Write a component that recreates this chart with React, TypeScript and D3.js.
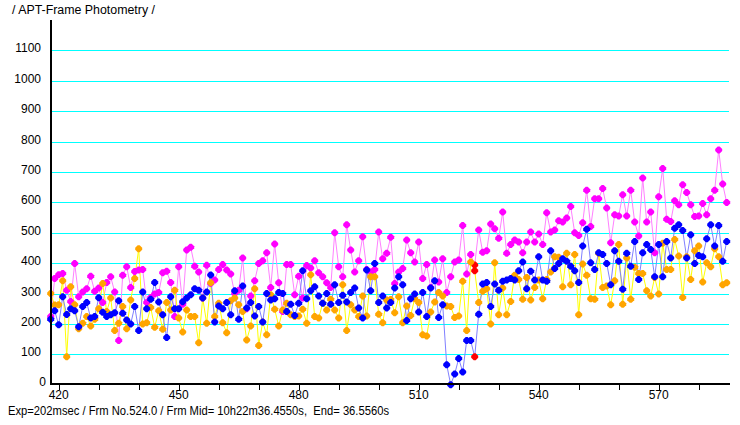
import * as d3 from "d3";
import { useEffect, useRef } from "react";

const firstFrame = 418;
const currentFrame = 524;

const magenta = [
  224, 349, 362, 366, 311, 274, 399, 289, 305, 316, 357, 307, 318, 270, 336, 355, 305, 145, 360, 388,
  320, 372, 377, 379, 270, 287, 298, 303, 368, 373, 336, 224, 388, 265, 443, 452, 390, 371, 285, 393,
  333, 344, 379,
  395, 377, 364, 300, 311, 417, 250, 292, 342, 399, 408, 434, 320, 463, 335, 241, 395, 395, 296, 357,
  285, 392, 384, 408, 368, 355, 335, 320, 500, 388, 355, 526, 443, 371, 408, 487, 379, 371, 379, 502,
  414, 432,
  485, 333, 371, 382, 476, 434, 404, 469, 349, 395, 320, 410, 338, 414, 303, 355, 404, 410, 524, 364,
  428, 394, 509, 436, 441, 529, 513, 482, 568, 432, 461, 476, 469, 434, 469, 502, 469, 496, 461, 566,
  502, 509, 539,
  535, 548, 586, 500, 491, 533, 640, 520, 612, 612, 645, 581, 467, 559, 555, 625, 555, 640, 535, 489,
  680, 535, 568, 434, 618, 711, 544, 537, 605, 592, 658, 632, 592, 553, 555, 596, 559, 612, 640, 772,
  660, 599,
];

const orange = [
  300, 262, 263, 342, 92, 322, 263, 184, 202, 224, 193, 215, 250, 333, 241, 285, 178, 202, 257, 184,
  279, 349, 447, 200, 204, 254, 189, 243, 182, 270, 246, 311, 219, 173, 246, 224, 224, 138, 285, 202,
  335, 224, 268,
  204, 171, 276, 285, 263, 241, 147, 193, 316, 129, 206, 164, 296, 248, 193, 246, 268, 230, 224, 226,
  248, 202, 362, 224, 219, 268, 246, 281, 246, 219, 329, 178, 263, 246, 224, 292, 226, 355, 355, 232,
  204, 279,
  280, 237, 289, 204, 259, 228, 283, 270, 164, 160, 239, 272, 303, 292, 259, 257, 221, 226, 340, 178,
  404, 375, 270, 307, 316, 200, 401, 230, 318, 230, 274, 360, 346, 281, 353, 279, 320, 344, 283, 346,
  371, 421, 419,
  322, 432, 329, 428, 230, 397, 360, 283, 281, 432, 320, 325, 263, 342, 461, 265, 417, 281, 386, 366,
  366, 309, 292, 353, 298, 465, 379, 379, 478, 423, 287, 421, 346, 441, 456, 338, 401, 388, 447, 421,
  329, 335,
];

const blue = [
  215, 243, 197, 289, 231, 250, 243, 191, 257, 270, 219, 224, 286, 238, 224, 230, 237, 276, 235, 213,
  200, 257, 178, 305, 250, 281, 336, 272, 230, 155, 289, 250, 250, 273, 285, 296, 316, 311, 285, 305,
  361, 206, 259,
  250, 270, 230, 309, 215, 325, 252, 270, 226, 257, 206, 300, 279, 283, 303, 300, 241, 265, 228, 268,
  375, 283, 309, 322, 292, 268, 300, 265, 329, 270, 294, 272, 303, 318, 252, 219, 377, 309, 399, 270,
  292, 252,
  270, 318, 355, 329, 211, 283, 298, 239, 303, 224, 318, 342, 221, 263, 66, 0, 35, 86, 42, 145,
  145, 92, 232, 331, 336, 257, 331, 311, 340, 344, 349, 344, 375, 404, 316, 373, 344, 421, 344, 340,
  441, 382, 399,
  414, 406, 390, 375, 336, 456, 511, 401, 379, 434, 428, 399, 329, 441, 406, 314, 432, 390, 471, 346,
  434, 461, 445, 355, 461, 355, 471, 417, 515, 526, 507, 417, 493, 399, 425, 421, 480, 526, 456, 524,
  406, 471,
];

const yTicks = [0, 100, 200, 300, 400, 500, 600, 700, 800, 900, 1000, 1100];
const xLabelTicks = [420, 450, 480, 510, 540, 570];
const xMinorTicks = d3.range(420, 590, 10);

const title = "/ APT-Frame Photometry /";
const footer = "Exp=202msec / Frm No.524.0 / Frm Mid= 10h22m36.4550s,  End= 36.5560s";

const series = [
  { values: magenta, line: "#ff80ff", mark: "#ff00ff" },
  { values: orange, line: "#ffff00", mark: "#ffa500" },
  { values: blue, line: "#8080ff", mark: "#0000ff" },
];

const markPath = "M-1,-3.5L1,-3.5L3.5,-1L3.5,1L1,3.5L-1,3.5L-3.5,1L-3.5,-1Z";

function Chart() {
  const ref = useRef<SVGSVGElement>(null);

  useEffect(() => {
    const svg = d3.select(ref.current!);
    svg.selectAll("*").remove();
    const font = "'Liberation Sans', 'DejaVu Sans', sans-serif";

    const x = d3.scaleLinear().domain([420, 570]).range([58.7, 658.7]);
    const y = d3.scaleLinear().domain([0, 1100]).range([384.7, 50.3]);

    // grid
    svg.append("g")
      .selectAll("line")
      .data(yTicks.filter(d => d > 0))
      .join("line")
      .attr("x1", 52).attr("x2", 729)
      .attr("y1", d => Math.round(y(d)) + 0.5)
      .attr("y2", d => Math.round(y(d)) + 0.5)
      .attr("stroke", "#00ffff")
      .attr("stroke-width", 1);

    svg.append("g")
      .selectAll("text")
      .data(yTicks)
      .join("text")
      .attr("x", d => d === 0 ? 46 : 41)
      .attr("y", d => Math.round(y(d)) + (d === 0 ? 1 : 2))
      .attr("text-anchor", "end")
      .attr("font-family", font)
      .attr("font-size", 12)
      .text(d => d);

    // lines
    const frames = magenta.map((_, i) => firstFrame + i);
    series.forEach(s => {
      const line = d3.line<number>()
        .x((_, i) => x(frames[i]))
        .y(d => y(d));
      svg.append("path")
        .attr("d", line(s.values))
        .attr("fill", "none")
        .attr("stroke", s.line)
        .attr("stroke-width", 1);
    });

    // markers
    series.forEach(s => {
      svg.append("g")
        .selectAll("path")
        .data(s.values.map((v, i) => ({ f: frames[i], v })))
        .join("path")
        .attr("d", markPath)
        .attr("transform", d => `translate(${x(d.f)},${y(d.v)})`)
        .attr("fill", d => d.f === currentFrame ? "#ff0000" : s.mark);
    });

    // axes
    svg.append("line")
      .attr("x1", 51).attr("x2", 51).attr("y1", 20).attr("y2", 385)
      .attr("stroke", "#000").attr("stroke-width", 2);
    svg.append("line")
      .attr("x1", 50).attr("x2", 730).attr("y1", 384).attr("y2", 384)
      .attr("stroke", "#000").attr("stroke-width", 2);

    svg.append("g")
      .selectAll("line")
      .data(xMinorTicks)
      .join("line")
      .attr("x1", d => Math.round(x(d)) + 0.5)
      .attr("x2", d => Math.round(x(d)) + 0.5)
      .attr("y1", 384).attr("y2", 390)
      .attr("stroke", "#000");

    svg.append("g")
      .selectAll("text")
      .data(xLabelTicks)
      .join("text")
      .attr("x", d => x(d))
      .attr("y", 399)
      .attr("text-anchor", "middle")
      .attr("font-family", font)
      .attr("font-size", 12)
      .text(d => d);

    svg.append("text")
      .attr("x", 12).attr("y", 14)
      .attr("font-family", font)
      .attr("font-size", 12)
      .attr("textLength", 143)
      .attr("lengthAdjust", "spacingAndGlyphs")
      .text(title);

    svg.append("text")
      .attr("x", 8).attr("y", 415)
      .attr("font-family", font)
      .attr("font-size", 12)
      .attr("textLength", 381)
      .attr("lengthAdjust", "spacingAndGlyphs")
      .style("white-space", "pre")
      .text(footer);
  }, []);

  return (
    <svg ref={ref} width={740} height={425}
      style={{ position: "absolute", left: 0, top: 0, background: "#fff" }} />
  );
}

export default function App() {
  return <Chart />;
}
